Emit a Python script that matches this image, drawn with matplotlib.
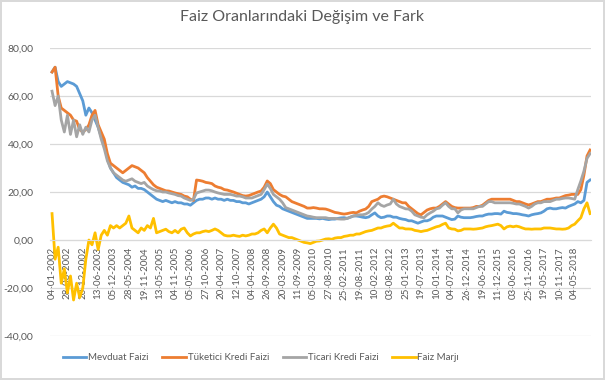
import matplotlib
matplotlib.use("Agg")
import matplotlib.pyplot as plt
import numpy as np

plt.rcParams["font.family"] = ["Lato", "DejaVu Sans"]

# Weekly series sampled every 5 weeks (starting 04-01-2002)
mevduat = [70, 72, 66, 64, 65, 66, 65.5, 65, 64, 61,
           58, 52, 55, 53, 50, 47, 43, 40, 34, 30,
           28, 26, 25, 24, 23.5, 23, 22, 22.5, 21.5, 21.5,
           21, 20, 19, 18, 17, 16.5, 16, 16.5, 16, 15.5,
           16, 15.5, 15.5, 15, 15, 14.5, 15.5, 16.5, 17, 17,
           17.5, 17.5, 17, 17.5, 17, 17, 16.5, 17, 16.5, 16.5,
           16, 16, 15.5, 15.5, 15, 15.5, 16, 16.5, 17, 18,
           20, 18, 16, 14.5, 14, 13, 12.5, 12, 11.5, 11,
           10.5, 10, 9.5, 9, 9, 9, 9, 8.8, 9, 8.7,
           8.5, 8.7, 8.7, 9, 9.2, 9.3, 9, 9.5, 10, 10,
           9.8, 9.5, 9.3, 9.6, 10.5, 11.3, 10, 9.3, 9.5, 10,
           10, 9.5, 9.5, 9, 8.7, 8.5, 8, 8, 7.5, 7,
           7.5, 8, 8, 8.5, 9.5, 10, 10, 10, 9.5, 9,
           8.5, 8.7, 10, 9.5, 9.3, 9.3, 9.3, 9.5, 9.8, 10,
           10, 10.5, 10.8, 10.8, 11, 11, 10.8, 12, 11.5, 11.3,
           11, 11, 10.8, 10.5, 10.3, 10, 10.5, 10.8, 11, 11.3,
           12, 13, 13.3, 13, 13, 13.3, 13.5, 13.3, 14, 14.5,
           15, 16, 15.5, 16.5, 24, 25]

tuketici = [70, 72, 60, 55, 54, 53, 52, 50, 49.5, 46,
            45, 46, 48, 52, 54, 48, 45, 42, 36, 32,
            31, 30, 29, 28, 29, 30, 31, 30.5, 30, 29,
            28, 26, 24.5, 23, 22, 21.5, 21, 20.5, 20.4, 20,
            19.6, 19.3, 19, 18.3, 18, 17, 16.5, 25, 24.8, 24.5,
            24, 23.8, 23.5, 22.5, 22, 21.7, 21, 20.8, 20.4, 20,
            19.5, 19, 18.5, 18.3, 18.5, 19, 19.5, 20, 20.4, 22,
            24.6, 23.5, 21, 20, 19, 18.3, 18, 17, 16, 15.5,
            15, 14.5, 14, 13.3, 13.3, 13.5, 13.3, 13, 13, 12.9,
            12.5, 12, 11.5, 11.3, 11, 10.8, 11, 11.3, 11.5, 11.3,
            12, 12.5, 12.9, 14, 16, 16.5, 17, 18, 18.3, 18,
            17.5, 17, 16.5, 16, 15.5, 15.5, 14, 13, 12, 11,
            10.5, 11.5, 12.5, 13, 13.3, 13.3, 14, 15, 16, 15,
            14, 13.5, 13.3, 13.3, 13.3, 13.3, 13.3, 13.5, 14, 14,
            14.5, 15.5, 16.5, 17, 17, 17, 17, 17, 17, 17,
            16.5, 16, 16, 15.5, 15, 14.6, 15, 15.5, 16, 16,
            16.5, 17, 17, 17.2, 17.5, 17.5, 18, 18.5, 18.7, 19,
            19, 19, 21, 27, 35, 37.5]

ticari = [62, 56, 60, 50, 45, 52, 44, 50, 43, 48,
          44, 47, 45, 50, 52, 47, 42, 38, 33, 30,
          28, 27, 26, 25, 24.5, 25, 25.5, 24.5, 24, 23.5,
          24, 22.5, 21.7, 21, 20.5, 20.4, 20, 20, 19.6, 19.3,
          19, 18.5, 18.3, 17.5, 17, 16.5, 17, 19.6, 20, 20.4,
          20.8, 20.8, 20.5, 20, 19.6, 19.3, 19, 19, 19, 18.7,
          18.3, 18.3, 18, 17.5, 17.5, 17.5, 18, 18.5, 19, 21,
          23.3, 21.5, 19, 18, 17, 15.5, 13.5, 13, 12.5, 12,
          11.5, 11, 10.5, 10, 9.8, 9.5, 9.3, 9.3, 9.3, 9.3,
          9, 9, 9, 8.8, 8.7, 8.7, 9, 9.5, 10, 10.3,
          10.5, 10.5, 10.8, 11.5, 12.9, 14, 15.5, 14.5, 14, 14.6,
          15, 17, 15, 14, 13.5, 13, 12.9, 12, 10.5, 10,
          9.5, 9.3, 10.5, 11.3, 12, 13, 13.3, 14.5, 15.5, 14,
          13, 13, 11.3, 12.5, 13, 13, 13, 13, 13.5, 14,
          14, 15, 16, 16, 15.5, 15.5, 15.5, 15.5, 15.5, 15.5,
          15.3, 15, 15, 14.5, 14, 13.3, 14, 15, 15.5, 15.5,
          16, 16, 16, 16.5, 17, 17, 17.3, 17.5, 17.5, 17.3,
          17, 21, 24.6, 28.7, 34, 36]

marj = [11, -8, -3, -18, -12, -22, -15, -25, -18, -24,
        -20, -8, 0, -2, 3, -4, 2, 4, 2, 6,
        5, 6, 5, 6, 7, 10, 5, 4, 3, 5,
        4, 6, 5, 9, 3, 3.5, 4, 4.5, 3.5, 3,
        4, 3, 4.5, 5, 3, 1.7, 2.5, 3, 3, 3.5,
        3.8, 3.5, 4, 4.6, 4, 3, 2, 1.7, 1.7, 2,
        1.7, 1.5, 2, 1.7, 2, 2.5, 2.5, 3, 4, 4.6,
        3, 5, 6.6, 5, 2.5, 2, 1.5, 1, 1, 0.5,
        0, -0.5, -1, -1.2, -1.5, -1, -0.5, -0.4, 0, 0.4,
        0.5, 0.3, 0.8, 1, 1, 1.5, 1.7, 2, 2, 2.5,
        2.5, 3, 3.5, 3.8, 4, 4.5, 5, 5, 5.5, 5.8,
        6, 7, 6, 5, 5, 4.6, 4.6, 4.5, 4, 3.8,
        3.5, 3.8, 4, 4.5, 5, 5.5, 5.8, 6.5, 7, 5,
        4.6, 4.5, 3.8, 4, 4.6, 4.6, 4.6, 4.5, 4.6, 4.8,
        5, 5.5, 5.8, 6, 6.3, 6.6, 6, 4.6, 5.5, 5.8,
        5.5, 5.8, 5.5, 5, 4.6, 4.6, 4.5, 4.6, 4.6, 4.6,
        5, 5, 5, 4.8, 4.6, 4.6, 4.5, 4.6, 5, 6,
        6.6, 8, 9.3, 13, 15.5, 11]

tick_labels = ["04-01-2002", "28-06-2002", "20-12-2002", "13-06-2003", "05-12-2003",
               "28-05-2004", "19-11-2004", "13-05-2005", "04-11-2005", "05-05-2006",
               "27-10-2006", "20-04-2007", "12-10-2007", "04-04-2008", "26-09-2008",
               "20-03-2009", "11-09-2009", "05-03-2010", "27-08-2010", "25-02-2011",
               "19-08-2011", "10-02-2012", "03-08-2012", "25-01-2013", "19-07-2013",
               "10-01-2014", "04-07-2014", "26-12-2014", "19-06-2015", "11-12-2015",
               "03-06-2016", "25-11-2016", "19-05-2017", "10-11-2017", "04-05-2018"]

series_names = ["Mevduat Faizi", "Tüketici Kredi Faizi", "Ticari Kredi Faizi", "Faiz Marjı"]
colors = ["#5B9BD5", "#ED7D31", "#A5A5A5", "#FFC000"]

step = 5          # weeks between samples
tick_every = 25   # weeks between category labels

fig = plt.figure(figsize=(6.05, 3.8), dpi=100)
fig.patch.set_edgecolor("#D9D9D9")
fig.patch.set_linewidth(1.5)
ax = fig.add_axes([50/605, 1-336/380, (591-50)/605, (336-48)/380])

weeks = np.arange(len(mevduat)) * step
for vals, name, c in zip([mevduat, tuketici, ticari, marj], series_names, colors):
    ax.plot(weeks, vals, color=c, lw=2.0, label=name, solid_joinstyle="round")

for s in ["left", "right", "top"]:
    ax.spines[s].set_visible(False)
ax.spines["bottom"].set_position(("data", 0))
ax.spines["bottom"].set_color("#D9D9D9")

ax.set_ylim(-40, 80)
ax.set_yticks(np.arange(-40, 81, 20))
ax.set_yticklabels([f"{v:.2f}".replace(".", ",") for v in np.arange(-40, 81, 20)])
ax.set_xlim(-3.3, weeks[-1] + 1.5)
ax.set_xticks(np.arange(len(tick_labels)) * tick_every)
ax.set_xticklabels(tick_labels)

ax.grid(axis="y", color="#D9D9D9", lw=0.9)
ax.set_axisbelow(True)
ax.tick_params(axis="x", length=0, labelsize=7, labelcolor="#595959", pad=5,
               labelrotation=90)
ax.tick_params(axis="y", length=0, labelsize=7.5, labelcolor="#595959", pad=12)

fig.suptitle("Faiz Oranlarındaki Değişim ve Fark", y=0.975, fontsize=11.5, color="#595959")
fig.legend(loc="center left", bbox_to_anchor=(60/605, 1-358/380), ncol=4, frameon=False,
           fontsize=7, handlelength=2.4, columnspacing=1.4, handletextpad=0.2,
           labelcolor="#595959", borderaxespad=0, borderpad=0.3)

fig.savefig("out.png", dpi=100, edgecolor=fig.get_edgecolor())
